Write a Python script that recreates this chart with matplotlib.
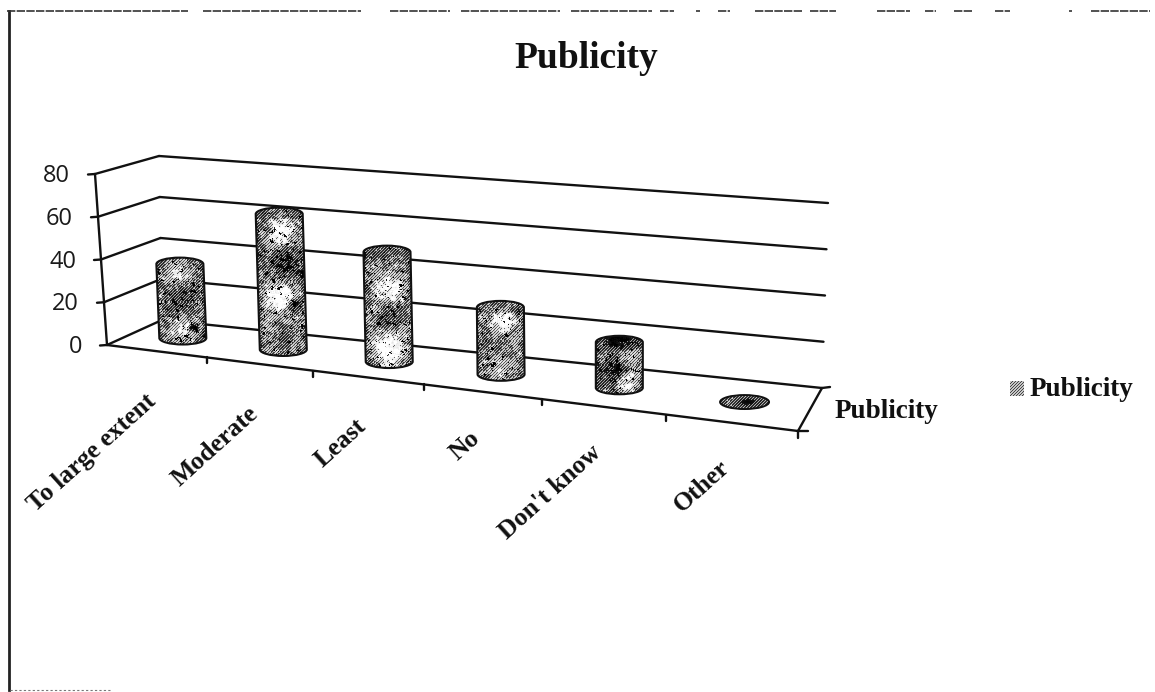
import numpy as np
import matplotlib
matplotlib.use("Agg")
import matplotlib.pyplot as plt
from matplotlib.patches import Ellipse, PathPatch
from matplotlib.path import Path

categories = ["To large extent", "Moderate", "Least", "No", "Don't know", "Other"]
values = [35, 63, 50, 30, 20, 0]
value_ticks = [0, 20, 40, 60, 80]
series_name = "Publicity"

# Light and dark patches on each cylinder: (across, down, radius, tone)
patches_by_bar = [
    [(0.45, 0.16, 0.26, 0.85), (0.5, 0.47, 0.32, 0.25), (0.55, 0.80, 0.24, 0.78), (0.75, 0.8, 0.1, 0.1)],
    [(0.50, 0.17, 0.26, 1.0), (0.55, 0.38, 0.30, 0.15), (0.45, 0.60, 0.28, 1.0), (0.9, 0.45, 0.1, 0.02),
     (0.55, 0.88, 0.2, 0.3), (0.75, 0.66, 0.12, 0.1)],
    [(0.5, 0.12, 0.24, 0.45), (0.5, 0.35, 0.30, 0.92), (0.5, 0.60, 0.24, 0.25), (0.5, 0.84, 0.34, 1.0)],
    [(0.55, 0.27, 0.26, 0.95), (0.45, 0.55, 0.20, 0.40), (0.5, 0.82, 0.24, 0.70)],
    [(0.55, 0.34, 0.34, 1.0), (0.4, 0.62, 0.30, 0.06), (0.65, 0.80, 0.20, 0.9), (0.5, 0.03, 0.4, 0.05)],
    [(0.55, 0.5, 0.2, 0.05)],
]

# Corners of the chart's floor and back wall, in figure pixels
FLOOR_FRONT_L, FLOOR_FRONT_R = np.array([107.0, 345.0]), np.array([798.0, 431.0])
FLOOR_BACK_L, FLOOR_BACK_R = np.array([162.0, 320.0]), np.array([822.0, 388.0])
RISE_FRONT_L, RISE_FRONT_R = np.array([-12.0, -171.0]), np.array([0.0, -190.0])
RISE_BACK_L, RISE_BACK_R = np.array([-3.0, -164.0]), np.array([6.0, -185.0])
VALUE_MAX = 80.0
PERSPECTIVE = 1.18


def lerp(a, b, t):
    return a + (b - a) * t


def project(x, depth, value):
    """Map category position, depth (0 front, 1 back) and value to the page."""
    s = x / len(categories)
    t = s / (s + PERSPECTIVE * (1 - s))
    base = lerp(lerp(FLOOR_FRONT_L, FLOOR_FRONT_R, t), lerp(FLOOR_BACK_L, FLOOR_BACK_R, t), depth)
    rise = lerp(lerp(RISE_FRONT_L, RISE_FRONT_R, t), lerp(RISE_BACK_L, RISE_BACK_R, t), depth)
    return base + rise * value / VALUE_MAX


def smooth_noise(rng, h, w, size):
    field = rng.random((h, w))
    kernel = np.ones(size) / size
    field = np.apply_along_axis(lambda r: np.convolve(r, kernel, mode="same"), 0, field)
    field = np.apply_along_axis(lambda r: np.convolve(r, kernel, mode="same"), 1, field)
    return (field - field.mean()) / (field.std() + 1e-6)


def halftone(tone):
    """Turn a tone map into a scanned, diagonal-screen grey image."""
    h, w = tone.shape
    jj, ii = np.meshgrid(np.arange(w), np.arange(h))
    screen = ((ii + jj) % 3 + 0.5) / 3
    binary = (tone > screen).astype(float)
    return 0.5 * binary + 0.5 * tone


rng = np.random.default_rng(4)
fig = plt.figure(figsize=(11.55, 6.92), dpi=100, facecolor="white")
ax = fig.add_axes([0, 0, 1, 1])
ax.axis("off")

ink = "#111111"
line_kw = dict(color=ink, lw=1.7, solid_capstyle="round", zorder=2)


def segment(p, q, **kw):
    opts = {**line_kw, **kw}
    ax.plot([p[0], q[0]], [p[1], q[1]], **opts)


# Wall gridlines running across the back and down the left side
for v in value_ticks:
    front = project(0, 0, v)
    back_l = project(0, 1, v)
    back_r = project(len(categories), 1, v)
    segment(front, back_l)
    segment(back_l, back_r)
    segment(front, front + np.array([-7, 0.5]))
    ax.text(front[0] - 25, front[1] + 2, str(v), ha="right", va="center",
            fontsize=17, family="Open Sans", color="#1a1a1a")

# Vertical axis and floor outline
segment(project(0, 0, 0), project(0, 0, VALUE_MAX))
front_l, front_r = project(0, 0, 0), project(len(categories), 0, 0)
back_r = project(len(categories), 1, 0)
segment(front_l, front_r)
segment(front_r, back_r)
segment(front_r, front_r + np.array([10, 0]))
segment(back_r, back_r + np.array([8, -1]))
segment(front_r, front_r + np.array([0, 7]))

# Category ticks and slanted labels
for i, name in enumerate(categories):
    p = project(i + 1, 0, 0)
    if i < len(categories) - 1:
        segment(p, p + np.array([0, 6]))
    ax.text(p[0] - 54 - 3.6 * i, p[1] + 41 - 1.5 * i, name, rotation=42, rotation_mode="anchor",
            ha="right", va="center", fontsize=18.5, family="Liberation Serif",
            fontweight="bold", color="#111111")

# Cylinders
half_w, half_h = 23.5, 6.5
for i, value in enumerate(values):
    c_bot = project(i + 0.5, 0.5, 0)
    c_top = project(i + 0.5, 0.5, value)
    cx = c_bot[0]
    if value <= 0:
        h = 14
        w = 52
        jj, ii = np.meshgrid(np.linspace(0, 1, w), np.linspace(0, 1, h))
        tone = 0.42 + 0.08 * smooth_noise(rng, h, w, 3)
        for (u, d, r, tn) in patches_by_bar[i]:
            m = np.exp(-(((jj - u) / r) ** 2 + ((ii - d) / 0.3) ** 2))
            tone = tone * (1 - m) + tn * m
        ell = Ellipse((cx, c_bot[1]), 2 * half_w + 2, 14, fc="none", ec=ink, lw=1.4, zorder=6)
        im = ax.imshow(halftone(np.clip(tone, 0, 1)), cmap="gray", vmin=0, vmax=1, aspect="auto",
                       extent=(cx - 26, cx + 26, c_bot[1] + 7, c_bot[1] - 7), zorder=5,
                       interpolation="nearest")
        ax.add_patch(ell)
        im.set_clip_path(ell)
        continue

    bx, tx = c_bot[0], c_top[0]
    ytop, ybot = c_top[1], c_bot[1]
    kappa = 0.5523
    verts = [(tx - half_w, ytop), (bx - half_w, ybot),
             (bx - half_w, ybot + kappa * half_h), (bx - kappa * half_w, ybot + half_h), (bx, ybot + half_h),
             (bx + kappa * half_w, ybot + half_h), (bx + half_w, ybot + kappa * half_h), (bx + half_w, ybot),
             (tx + half_w, ytop),
             (tx + half_w, ytop - kappa * half_h), (tx + kappa * half_w, ytop - half_h), (tx, ytop - half_h),
             (tx - kappa * half_w, ytop - half_h), (tx - half_w, ytop - kappa * half_h), (tx - half_w, ytop),
             (tx - half_w, ytop)]
    codes = [Path.MOVETO, Path.LINETO] + [Path.CURVE4] * 6 + [Path.LINETO] + [Path.CURVE4] * 6 + [Path.CLOSEPOLY]
    body = PathPatch(Path(verts, codes), fc="none", ec=ink, lw=1.5, zorder=6)

    x_lo, x_hi = min(bx, tx) - half_w - 1, max(bx, tx) + half_w + 1
    h = int(ybot - ytop + 2 * half_h) + 2
    w = int(x_hi - x_lo) + 1
    jj, ii = np.meshgrid(np.linspace(0, 1, w), np.linspace(0, 1, h))
    tone = 0.50 + 0.10 * smooth_noise(rng, h, w, 5)
    for (u, d, r, tn) in patches_by_bar[i]:
        aspect = w / h
        m = np.exp(-(((jj - u) / r) ** 2 + ((ii - d) / (r * aspect)) ** 2) ** 1.5)
        tone = tone * (1 - m) + tn * m
    tone += 0.12 * smooth_noise(rng, h, w, 3)
    # Dark flecks across the surface and a darker rim down the sides
    tone -= 0.8 * (smooth_noise(rng, h, w, 3) > 1.7)
    tone -= 0.25 * np.abs(2 * jj - 1) ** 5
    cap = (ii < 2 * half_h / h).astype(float)
    tone = tone * (1 - 0.2 * cap)
    im = ax.imshow(halftone(np.clip(tone, 0, 1)), cmap="gray", vmin=0, vmax=1, aspect="auto",
                   extent=(x_lo, x_hi, ybot + half_h + 1, ytop - half_h - 1), zorder=5,
                   interpolation="nearest")
    ax.add_patch(body)
    im.set_clip_path(body)

# Scanned page edge on the left and along the top
ax.plot([9, 9], [11, 690], color="#222222", lw=2.0, zorder=1)
top_runs = [(7, 188), (203, 361), (390, 450), (461, 560), (571, 652), (660, 674), (696, 700),
            (718, 730), (755, 803), (810, 836), (877, 910), (925, 936), (954, 973), (995, 1010),
            (1069, 1072), (1091, 1150)]
for a, b in top_runs:
    ax.plot([a, b], [11, 11], color="#333333", lw=1.2, ls=(0, (5, 0.8)), zorder=1)
ax.plot([10, 110], [690, 690], color="#777777", lw=0.8, ls=(0, (2, 2)), zorder=1)

# Title, depth-axis name and legend
ax.text(586, 58, series_name, ha="center", va="center", fontsize=27,
        family="Liberation Serif", fontweight="bold", color="#111111")
ax.text(886, 411, series_name, ha="center", va="center", fontsize=19.5,
        family="Liberation Serif", fontweight="bold", color="#111111")
ax.text(1030, 389, series_name, ha="left", va="center", fontsize=19.5,
        family="Liberation Serif", fontweight="bold", color="#111111")
swatch = halftone(np.full((15, 14), 0.55))
ax.imshow(swatch, cmap="gray", vmin=0, vmax=1, aspect="auto",
          extent=(1010, 1024, 396, 381), zorder=5, interpolation="nearest")

ax.set_xlim(0, 1155)
ax.set_ylim(692, 0)
fig.savefig("out.png", dpi=100)
